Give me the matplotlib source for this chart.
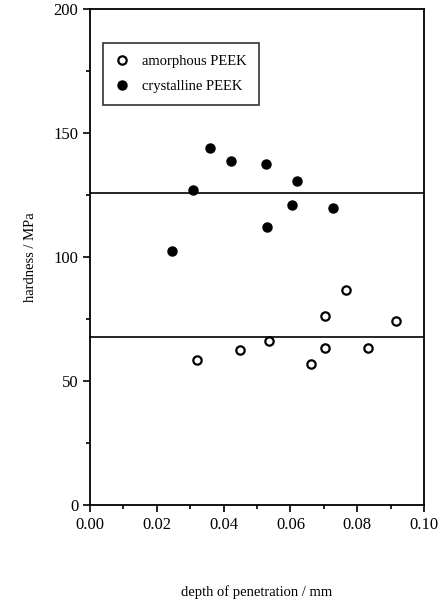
import numpy as np
import matplotlib
matplotlib.use("Agg")
import matplotlib.pyplot as plt
from matplotlib.ticker import MultipleLocator

plt.rcParams["font.family"] = ["Liberation Serif", "DejaVu Serif"]

# amorphous PEEK (open circles)
amorph_depth = [0.032, 0.0448, 0.0535, 0.0662, 0.0704, 0.0704, 0.0766, 0.0831, 0.0917]
amorph_hard = [58.6, 62.5, 66.3, 56.7, 63.2, 76.3, 86.7, 63.2, 74.3]

# crystalline PEEK (filled circles)
cryst_depth = [0.0245, 0.0307, 0.036, 0.0423, 0.0526, 0.0531, 0.0606, 0.0619, 0.0727]
cryst_hard = [102.4, 127.0, 144.0, 138.8, 137.6, 112.0, 121.0, 130.8, 119.6]

# mean hardness levels
levels = [125.9, 67.6]

fig = plt.figure(figsize=(4.39, 6.07), dpi=100)
ax = fig.add_axes([0.205, 0.168, 0.761, 0.817])

ax.plot(amorph_depth, amorph_hard, 'o', markersize=6, markerfacecolor='white',
        markeredgecolor='black', markeredgewidth=1.6, label='amorphous PEEK')
ax.plot(cryst_depth, cryst_hard, 'o', markersize=6.5, color='black',
        label='crystalline PEEK')
for lv in levels:
    ax.axhline(lv, color='black', linewidth=1.2)

ax.set_xlim(0, 0.10)
ax.set_ylim(0, 200)
ax.xaxis.set_major_locator(MultipleLocator(0.02))
ax.xaxis.set_minor_locator(MultipleLocator(0.01))
ax.yaxis.set_major_locator(MultipleLocator(50))
ax.yaxis.set_minor_locator(MultipleLocator(25))
ax.xaxis.set_major_formatter(matplotlib.ticker.FormatStrFormatter('%.2f'))
ax.tick_params(which='both', direction='out', top=False, right=False,
               labelsize=12, width=1.2)
ax.tick_params(which='major', length=5)
ax.tick_params(which='minor', length=3)
for s in ax.spines.values():
    s.set_linewidth(1.3)

ax.set_xlabel('depth of penetration / mm', fontsize=10.5, labelpad=38)
ax.set_ylabel('hardness / MPa', fontsize=10.5, labelpad=12)

leg = ax.legend(loc='upper left', bbox_to_anchor=(0.039, 0.931), frameon=True,
                fancybox=False, edgecolor='black', fontsize=10.5,
                handletextpad=0.9, borderpad=0.8, labelspacing=0.8,
                handlelength=1.0, borderaxespad=0)
leg.get_frame().set_linewidth(1.2)

fig.savefig('out.png', dpi=100)
